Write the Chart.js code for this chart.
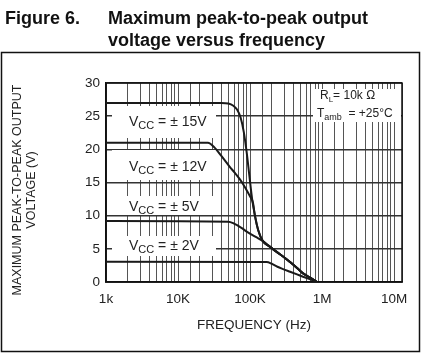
<!DOCTYPE html>
<html>
<head>
<meta charset="utf-8">
<script src="https://cdn.jsdelivr.net/npm/chart.js@4"></script>
<style>
  body { margin: 0; background: #fff; }
  canvas { display: block; }
</style>
</head>
<body>
<canvas id="myChart" width="425" height="359"></canvas>
<script>
// frequencies in Hz, voltages in V
const freq15 = [1000, 40000, 50000, 58000, 66000, 74000, 82000, 90000, 98000, 107000, 117000, 130000, 150000, 190000, 237000, 300000, 360000, 450000, 545000, 700000, 850000];
const volt15 = [27, 27, 26.9, 26.6, 26, 24.8, 22.6, 19.5, 16, 12.5, 10, 7.8, 6.2, 5.3, 4.5, 3.7, 3.0, 2.1, 1.3, 0.6, 0];

const freq12 = [1000, 26000, 32000, 40000, 52000, 62000, 72000, 85000, 100000, 110000, 117000, 130000, 150000, 190000, 237000, 300000, 360000, 450000, 545000, 700000, 850000];
const volt12 = [21, 21, 20.3, 19, 17.4, 16.4, 15.5, 14.3, 12.9, 11.9, 10, 7.8, 6.2, 5.3, 4.5, 3.7, 3.0, 2.1, 1.3, 0.6, 0];

const freq5 = [1000, 50000, 60000, 75000, 90000, 120000, 150000, 190000, 237000, 300000, 360000, 450000, 545000, 700000, 850000];
const volt5 = [9.2, 9.1, 8.8, 8.2, 7.6, 6.8, 6.2, 5.3, 4.5, 3.7, 3.0, 2.1, 1.3, 0.6, 0];

const freq2 = [1000, 170000, 200000, 240000, 287000, 360000, 450000, 545000, 700000, 850000];
const volt2 = [3.05, 3.0, 2.75, 2.3, 1.95, 1.54, 1.14, 0.8, 0.35, 0];

const seriesNames = ["15V", "12V", "5V", "2V"];
const xTickLabels = { 3: "1k", 4: "10K", 5: "100K", 6: "1M", 7: "10M" };
const yTicks = [0, 5, 10, 15, 20, 25, 30];

const FONT = "'Liberation Sans', Arial, sans-serif";

function toPoints(fs, vs) {
  return fs.map((f, i) => ({ x: f, y: vs[i] }));
}

function curve(label, fs, vs) {
  return {
    label: label,
    data: toPoints(fs, vs),
    borderColor: "#1a1a1a",
    borderWidth: 2,
    pointRadius: 0,
    fill: false,
    cubicInterpolationMode: "monotone",
  };
}

// labels drawn on the plot: [text, subscript, rest, left, centreY] relative to chart area
const curveLabels = [
  ["V", "CC", " = \u00b1 15V", 23, 38],
  ["V", "CC", " = \u00b1 12V", 23, 83],
  ["V", "CC", " = \u00b1 5V", 23, 123],
  ["V", "CC", " = \u00b1 2V", 23, 162],
];
const labelBoxes = [
  [6, 23, 104, 32],
  [6, 67, 104, 30],
  [6, 113, 104, 19],
  [6, 153, 104, 20],
  [207, 6, 88, 33],
];

const annotations = {
  id: "annotations",
  beforeDatasetsDraw(chart) {
    const ctx = chart.ctx;
    const a = chart.chartArea;
    ctx.save();
    ctx.fillStyle = "#fff";
    for (const b of labelBoxes) {
      ctx.fillRect(a.left + b[0], a.top + b[1], b[2], b[3]);
    }
    ctx.strokeStyle = "#111";
    ctx.lineWidth = 1.5;
    ctx.strokeRect(a.left, a.top, a.right - a.left, a.bottom - a.top);
    ctx.restore();
  },
  afterDatasetsDraw(chart) {
    const ctx = chart.ctx;
    const a = chart.chartArea;
    ctx.save();
    ctx.fillStyle = "#222";
    ctx.textBaseline = "alphabetic";
    for (const l of curveLabels) {
      let x = a.left + l[3];
      const y = a.top + l[4] + 5;
      ctx.font = "14px " + FONT;
      ctx.fillText(l[0], x, y);
      x += ctx.measureText(l[0]).width;
      ctx.font = "11px " + FONT;
      ctx.fillText(l[1], x, y + 3);
      x += ctx.measureText(l[1]).width;
      ctx.font = "14px " + FONT;
      ctx.fillText(l[2], x, y);
    }
    // RL / Tamb note
    let x = a.left + 214;
    let y = a.top + 16;
    ctx.font = "12px " + FONT;
    ctx.fillText("R", x, y);
    x += ctx.measureText("R").width;
    ctx.font = "8px " + FONT;
    ctx.fillText("L", x, y + 3);
    x += ctx.measureText("L").width;
    ctx.font = "12px " + FONT;
    ctx.fillText("= 10k \u03a9", x, y);

    x = a.left + 211;
    y = a.top + 34;
    ctx.fillText("T", x, y);
    x += ctx.measureText("T").width;
    ctx.font = "9px " + FONT;
    ctx.fillText("amb", x, y + 3);
    x += ctx.measureText("amb").width;
    ctx.font = "12px " + FONT;
    ctx.fillText("  = +25\u00b0C", x, y);
    ctx.restore();
  },
  afterDraw(chart) {
    const ctx = chart.ctx;
    ctx.save();
    // figure heading
    ctx.fillStyle = "#111";
    ctx.font = "bold 18px " + FONT;
    ctx.textBaseline = "alphabetic";
    ctx.fillText("Figure 6.", 5, 24);
    ctx.fillText("Maximum peak-to-peak output", 108, 24);
    ctx.fillText("voltage versus frequency", 108, 46);

    // outer frame
    ctx.strokeStyle = "#111";
    ctx.lineWidth = 1.5;
    ctx.strokeRect(1.5, 52.5, 418, 299);

    // axis titles
    ctx.fillStyle = "#222";
    ctx.font = "13.5px " + FONT;
    ctx.textAlign = "center";
    ctx.textBaseline = "middle";
    ctx.fillText("FREQUENCY (Hz)", 254, 325);

    ctx.translate(24, 190);
    ctx.rotate(-Math.PI / 2);
    ctx.font = "12.5px " + FONT;
    ctx.fillText("MAXIMUM PEAK-TO-PEAK OUTPUT", 0, -6);
    ctx.fillText("VOLTAGE (V)", 0, 8);
    ctx.restore();
  },
};

const config = {
  type: "line",
  data: {
    datasets: [
      curve(seriesNames[0], freq15, volt15),
      curve(seriesNames[1], freq12, volt12),
      curve(seriesNames[2], freq5, volt5),
      curve(seriesNames[3], freq2, volt2),
    ],
  },
  options: {
    responsive: false,
    animation: false,
    events: [],
    layout: { padding: { top: 83, right: 23, left: 0, bottom: 0 } },
    plugins: {
      legend: { display: false },
      title: { display: false },
      tooltip: { enabled: false },
    },
    scales: {
      x: {
        type: "logarithmic",
        min: 1000,
        max: 12900000,
        afterFit: (scale) => {
          scale.height = 77;
        },
        grid: {
          color: "#555",
          lineWidth: 1,
          drawTicks: false,
        },
        border: { display: true, color: "#111", width: 1.5 },
        ticks: {
          autoSkip: false,
          maxRotation: 0,
          padding: 9,
          color: "#222",
          font: { family: FONT, size: 13.5 },
          callback: function (value) {
            const l = Math.log10(value);
            const r = Math.round(l);
            if (Math.abs(l - r) < 1e-6 && xTickLabels[r]) return xTickLabels[r];
            return "";
          },
        },
      },
      y: {
        min: 0,
        max: 30,
        afterFit: (scale) => {
          scale.width = 106;
        },
        afterBuildTicks: (scale) => {
          scale.ticks = yTicks.map((v) => ({ value: v }));
        },
        grid: {
          color: "#333",
          lineWidth: 1.5,
          drawTicks: false,
        },
        border: { display: true, color: "#111", width: 1.5 },
        ticks: {
          padding: 6,
          color: "#222",
          font: { family: FONT, size: 13.5 },
        },
      },
    },
  },
  plugins: [annotations],
};

var myChart = new Chart(document.getElementById("myChart"), config);
</script>
</body>
</html>
